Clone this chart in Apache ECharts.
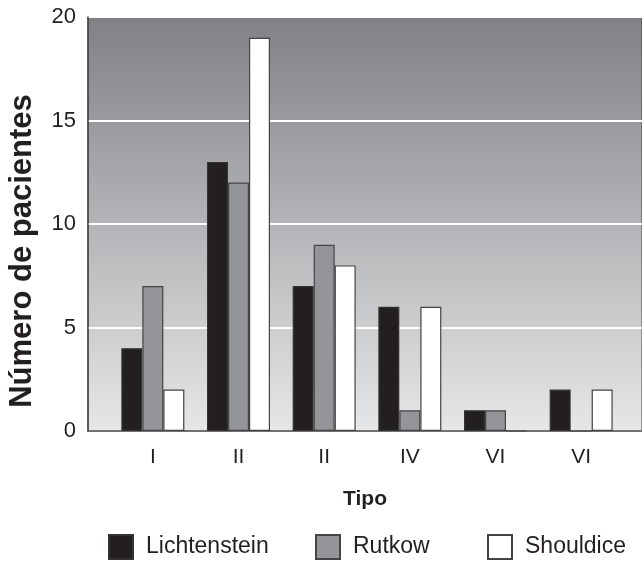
<!DOCTYPE html>
<html>
<head>
<meta charset="utf-8">
<script src="https://cdn.jsdelivr.net/npm/echarts@6/dist/echarts.min.js"></script>
<style>html,body{margin:0;padding:0;background:#fff}#c{width:642px;height:562px}</style>
</head>
<body>
<div id="c"></div>
<script>
const categories = ['I', 'II', 'II', 'IV', 'VI', 'VI'];
const lichtenstein = [4, 13, 7, 6, 1, 2];
const rutkow = [7, 12, 9, 1, 1, 0];
const shouldice = [2, 19, 8, 6, 0, 2];
const yTicks = [0, 5, 10, 15, 20];
const yTitle = 'Número de pacientes';
const xTitle = 'Tipo';

const font = 'Liberation Sans, Arial, sans-serif';
const chart = echarts.init(document.getElementById('c'));
function barSeries(name, data, color, border) {
  return {
    name: name, type: 'bar', xAxisIndex: 1, yAxisIndex: 1,
    data: data, barWidth: 21, barGap: '0%',
    itemStyle: { color: color, borderColor: border, borderWidth: 1.2 },
    emphasis: { disabled: true }
  };
}
const legendBase = {
  itemWidth: 24, itemHeight: 24, top: 529, icon: 'rect',
  textStyle: { fontFamily: font, fontSize: 23, color: '#231f20', padding: [0, 0, 0, 8] },
  itemGap: 10
};
chart.setOption({
  animation: false,
  grid: [
    { left: 88, right: 0, top: 17, bottom: 131, show: true, borderWidth: 1, borderColor: '#444',
      outerBoundsMode: 'none', containLabel: false,
      backgroundColor: { type: 'linear', x: 0, y: 0, x2: 0, y2: 1,
        colorStops: [{ offset: 0, color: '#808185' }, { offset: 1, color: '#e6e7e8' }] } },
    { left: 110, right: 18, top: 17, bottom: 131, outerBoundsMode: 'none', containLabel: false }
  ],
  xAxis: [
    { type: 'category', gridIndex: 0, data: categories, axisLabel: { show: false }, axisTick: { show: false },
      axisLine: { show: true, lineStyle: { color: '#444', width: 1.5 } },
      name: xTitle, nameLocation: 'middle', nameGap: 58,
      nameTextStyle: { fontFamily: font, fontSize: 21, fontWeight: 'bold', color: '#231f20' } },
    { type: 'category', gridIndex: 1, data: categories, axisLine: { show: false }, axisTick: { show: false },
      axisLabel: { fontFamily: font, fontSize: 21, color: '#231f20', margin: 16 } }
  ],
  yAxis: [
    { type: 'value', gridIndex: 0, min: 0, max: 20, interval: 5,
      axisLine: { show: true, lineStyle: { color: '#444', width: 1.5 } }, axisTick: { show: false },
      axisLabel: { fontFamily: font, fontSize: 22, color: '#231f20', margin: 12, formatter: v => yTicks.includes(v) ? String(v) : '' },
      splitLine: { show: true, lineStyle: { color: '#ffffff', width: 2 } } },
    { type: 'value', gridIndex: 1, min: 0, max: 20, interval: 5, show: false, splitLine: { show: false } }
  ],
  graphic: [
    { type: 'text', x: 22, y: 251, rotation: Math.PI / 2, silent: true,
      style: { text: yTitle, fontFamily: font, fontSize: 31, fontWeight: 'bold', fill: '#231f20',
        align: 'center', verticalAlign: 'middle' } }
  ],
  legend: [
    Object.assign({}, legendBase, { left: 103, data: ['Lichtenstein'] }),
    Object.assign({}, legendBase, { left: 310, data: ['Rutkow'] }),
    Object.assign({}, legendBase, { left: 482, data: ['Shouldice'] })
  ],
  series: [
    barSeries('Lichtenstein', lichtenstein, '#231f20', '#333'),
    barSeries('Rutkow', rutkow, '#939598', '#444'),
    barSeries('Shouldice', shouldice, '#ffffff', '#444')
  ]
});
</script>
</body>
</html>
